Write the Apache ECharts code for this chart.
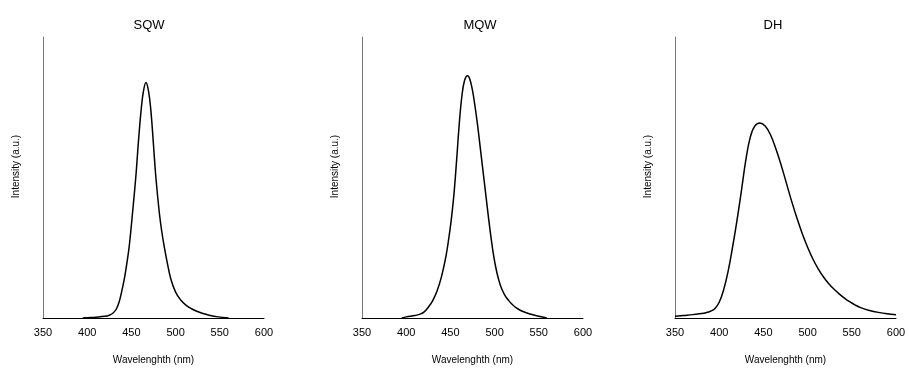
<!DOCTYPE html>
<html>
<head>
<meta charset="utf-8">
<script src="https://cdn.jsdelivr.net/npm/echarts@6/dist/echarts.min.js"></script>
<style>
  html, body {margin: 0; padding: 0; background: #fff;}
  #main {width: 909px; height: 370px;}
</style>
</head>
<body>
<div id="main"></div>
<script>
// wavelength (nm) / intensity (a.u.)
const sqwWl = [395, 400, 410, 420, 425, 429, 433, 436.4, 439, 442, 445, 447.6, 451.4, 455.2, 458, 461, 463.5, 466.5,
  469.5, 472, 475, 477.7, 481.4, 484, 487, 491, 494.6, 500, 506, 512, 518, 524, 530, 538, 548, 560];
const sqwI = [0, 0.001, 0.003, 0.006, 0.01, 0.017, 0.032, 0.06, 0.094, 0.139, 0.198, 0.257, 0.378, 0.51, 0.63, 0.74, 0.805, 0.838,
  0.805, 0.74, 0.615, 0.5, 0.38, 0.315, 0.257, 0.19, 0.139, 0.092, 0.063, 0.045, 0.033, 0.024, 0.017, 0.01, 0.004, 0];

const mqwWl = [395, 400, 410, 415, 420, 425, 430, 435, 440, 445, 448, 451, 454, 457, 460, 463, 466, 469.5,
  472, 475, 478, 481, 484, 487, 490, 493, 496, 499, 502, 505, 508, 512, 516, 520, 525, 530, 540, 550, 559];
const mqwI = [0, 0.004, 0.009, 0.013, 0.021, 0.038, 0.062, 0.097, 0.148, 0.22, 0.28, 0.35, 0.44, 0.56, 0.69, 0.79, 0.845, 0.862,
  0.85, 0.81, 0.75, 0.68, 0.6, 0.52, 0.44, 0.36, 0.285, 0.22, 0.17, 0.132, 0.104, 0.079, 0.062, 0.048, 0.035, 0.026, 0.014, 0.006, 0];

const dhWl = [350, 360, 370, 380, 385, 390, 395, 400, 405, 410, 415, 420, 425, 430, 435, 440, 446,
  452, 458, 464, 470, 476, 482, 488, 494, 500, 506, 512, 518, 524, 530, 536, 542, 548, 554, 560, 570, 580, 590, 600];
const dhI = [0.006, 0.009, 0.012, 0.016, 0.019, 0.024, 0.033, 0.056, 0.1, 0.165, 0.25, 0.345, 0.45, 0.56, 0.642, 0.682, 0.694,
  0.683, 0.652, 0.603, 0.545, 0.48, 0.415, 0.355, 0.3, 0.252, 0.21, 0.175, 0.146, 0.122, 0.102, 0.085, 0.07, 0.057, 0.046, 0.037, 0.027, 0.02, 0.015, 0.012];

const titles = ['SQW', 'MQW', 'DH'];
const titleX = [144, 475, 768];
const gridLeft = [43, 362, 675];
const xTicks = [350, 400, 450, 500, 550, 600];

const font = 'Liberation Sans, Arial, sans-serif';
const pairs = (xs, ys) => xs.map((x, i) => [x, ys[i]]);
const series = [pairs(sqwWl, sqwI), pairs(mqwWl, mqwI), pairs(dhWl, dhI)];

const chart = echarts.init(document.getElementById('main'));
chart.setOption({
  animation: false,
  backgroundColor: '#fff',
  title: titles.map((t, i) => ({
    text: t,
    left: titleX[i],
    top: 14,
    textAlign: 'center',
    textStyle: {fontFamily: font, fontSize: 13, fontWeight: 'normal', color: '#000'}
  })),
  grid: gridLeft.map(l => ({left: l, width: 221, top: 37, bottom: 51})),
  xAxis: gridLeft.map((l, i) => ({
    type: 'value',
    gridIndex: i,
    min: 350,
    max: 600,
    interval: 50,
    name: 'Wavelenghth (nm)',
    nameLocation: 'middle',
    nameGap: 37,
    nameTextStyle: {fontFamily: font, fontSize: 10, color: '#000'},
    axisLine: {lineStyle: {color: '#000', width: 1}},
    axisTick: {show: false},
    splitLine: {show: false},
    axisLabel: {
      margin: 9,
      fontFamily: font, fontSize: 11, color: '#000',
      formatter: v => xTicks.includes(v) ? String(v) : ''
    }
  })),
  yAxis: gridLeft.map((l, i) => ({
    type: 'value',
    gridIndex: i,
    min: 0,
    max: 1,
    name: 'Intensity (a.u.)',
    nameLocation: 'middle',
    nameGap: 22,
    nameTextStyle: {fontFamily: font, fontSize: 10, color: '#000', padding: [0, 0, 0, 22]},
    axisLine: {show: true, lineStyle: {color: '#777', width: 1}},
    axisTick: {show: false},
    axisLabel: {show: false},
    splitLine: {show: false}
  })),
  series: series.map((d, i) => ({
    type: 'line',
    xAxisIndex: i,
    yAxisIndex: i,
    data: d,
    smooth: 0.4,
    symbol: 'none',
    lineStyle: {color: '#000', width: 1.5}
  }))
});
</script>
</body>
</html>
